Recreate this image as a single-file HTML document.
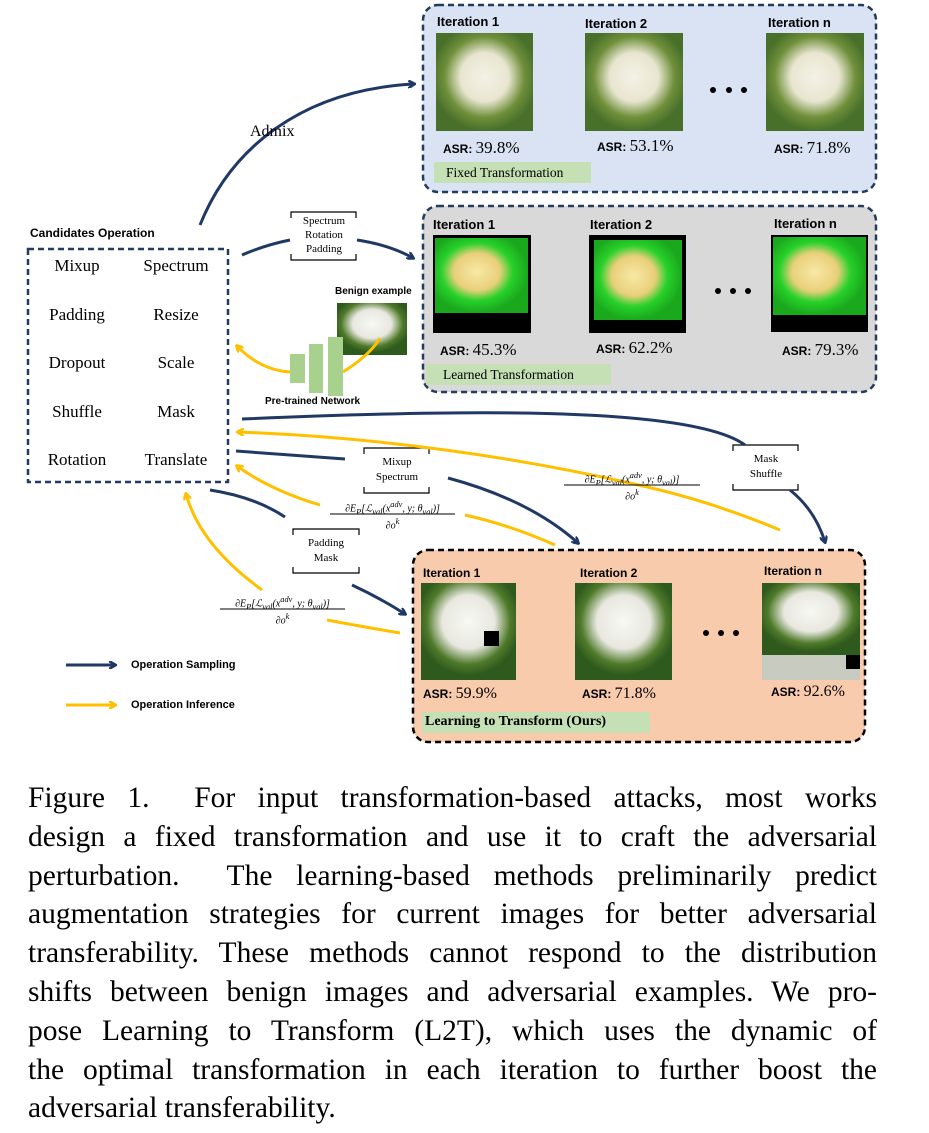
<!DOCTYPE html>
<html><head><meta charset="utf-8"><style>
body{margin:0;background:#fff;width:929px;height:1133px;position:relative;overflow:hidden}
.a{position:absolute}
.sans{font-family:"Liberation Sans",sans-serif;font-weight:bold}
.ser{font-family:"Liberation Serif",serif}
.cap{position:absolute;left:28px;top:779px;width:849px;font-family:"Liberation Serif",serif;font-size:29.5px;line-height:38.8px;color:#000}
.cap div{text-align:justify;text-align-last:justify;white-space:nowrap;height:38.8px}
.fr{line-height:12px;font-size:10px;font-style:italic;text-align:center;white-space:nowrap}
</style></head><body>
<svg class="a" style="left:0;top:0" width="929" height="770" viewBox="0 0 929 770">
<defs>
<marker id="n" markerWidth="8" markerHeight="8" refX="6" refY="4" orient="auto" markerUnits="userSpaceOnUse"><path d="M0,0 L7,4 L0,8" fill="none" stroke="#1f3864" stroke-width="2.5"/></marker>
<marker id="o" markerWidth="8" markerHeight="8" refX="6" refY="4" orient="auto" markerUnits="userSpaceOnUse"><path d="M0,0 L7,4 L0,8" fill="none" stroke="#ffc000" stroke-width="2.5"/></marker>
<radialGradient id="dg" cx="50%" cy="45%" r="55%"><stop offset="0" stop-color="#f4f1e6"/><stop offset="0.45" stop-color="#e8e6d0"/><stop offset="0.75" stop-color="#6f8f3a"/><stop offset="1" stop-color="#48702a"/></radialGradient>
<radialGradient id="dl" cx="45%" cy="45%" r="55%"><stop offset="0" stop-color="#f7e9a6"/><stop offset="0.45" stop-color="#e9cf7a"/><stop offset="0.7" stop-color="#27d12a"/><stop offset="1" stop-color="#1aa81d"/></radialGradient>
<radialGradient id="dr" cx="50%" cy="40%" r="55%"><stop offset="0" stop-color="#f8f8f4"/><stop offset="0.5" stop-color="#e8e8e0"/><stop offset="0.8" stop-color="#4f7a2a"/><stop offset="1" stop-color="#2f5a1e"/></radialGradient>
</defs>
<rect x="423" y="5" width="453" height="187" rx="15" fill="#dae3f3" stroke="#243a5e" stroke-width="2.5" stroke-dasharray="6,4"/>
<rect x="436" y="33" width="97" height="98" fill="url(#dg)"/>
<rect x="585" y="33" width="98" height="98" fill="url(#dg)"/>
<rect x="766" y="33" width="98" height="98" fill="url(#dg)"/>
<rect x="434" y="162" width="157" height="21" fill="#c5e0b4"/>
<rect x="423" y="206" width="453" height="186" rx="15" fill="#d9d9d9" stroke="#243a5e" stroke-width="2.5" stroke-dasharray="6,4"/>
<rect x="433" y="235" width="98" height="98" fill="#000"/><rect x="435" y="238" width="93" height="75" fill="url(#dl)"/>
<rect x="589" y="235" width="97" height="98" fill="#000"/><rect x="594" y="240" width="88" height="80" fill="url(#dl)"/>
<rect x="771" y="235" width="97" height="97" fill="#000"/><rect x="773" y="237" width="93" height="78" fill="url(#dl)"/>
<rect x="426" y="364" width="185" height="21" fill="#c5e0b4"/>
<rect x="413" y="550" width="452" height="192" rx="15" fill="#f8cbad" stroke="#000" stroke-width="2.5" stroke-dasharray="6,4"/>
<rect x="421" y="583" width="95" height="97" fill="url(#dr)"/><rect x="484" y="631" width="15" height="15" fill="#000"/>
<rect x="575" y="583" width="97" height="97" fill="url(#dr)"/>
<rect x="762" y="583" width="98" height="72" fill="url(#dr)"/><rect x="762" y="655" width="98" height="25" fill="#c8ccc0"/><rect x="846" y="655" width="14" height="14" fill="#000"/>
<rect x="422" y="712" width="228" height="21" fill="#c5e0b4"/>
<g fill="#000"><circle cx="713" cy="90" r="3"/><circle cx="729" cy="90" r="3"/><circle cx="744" cy="90" r="3"/>
<circle cx="718" cy="291" r="3"/><circle cx="733" cy="291" r="3"/><circle cx="748" cy="291" r="3"/>
<circle cx="706" cy="633" r="3"/><circle cx="721" cy="633" r="3"/><circle cx="736" cy="633" r="3"/></g>
<rect x="28" y="249" width="200" height="233" fill="none" stroke="#243a5e" stroke-width="2.5" stroke-dasharray="6,4"/>
<g fill="none" stroke="#000" stroke-width="1.2">
<path d="M291,218 V212 H356 V218 M291,254 V260 H356 V254"/>
<path d="M364,454 V448 H429 V454 M364,487 V493 H429 V487"/>
<path d="M293,535 V529 H359 V535 M293,567 V573 H359 V567"/>
<path d="M733,451 V445 H798 V451 M733,484 V490 H798 V484"/>
</g>
<rect x="337" y="303" width="70" height="52" fill="url(#dr)"/>
<rect x="290" y="354" width="15" height="29" fill="#a9d18e"/>
<rect x="309" y="344" width="14" height="49" fill="#a9d18e"/>
<rect x="328" y="337" width="15" height="59" fill="#a9d18e"/>
<g fill="none" stroke="#1f3864" stroke-width="3">
<path d="M200,225 C230,150 300,90 414,84" marker-end="url(#n)"/>
<path d="M242,255 Q265,245 290,240"/>
<path d="M357,240 Q390,245 413,258" marker-end="url(#n)"/>
<path d="M242,419 C450,410 690,405 745,445"/>
<path d="M790,490 Q815,510 825,542" marker-end="url(#n)"/>
<path d="M236,451 L345,459"/>
<path d="M448,478 Q530,500 578,543" marker-end="url(#n)"/>
<path d="M210,490 Q255,497 285,517"/>
<path d="M352,585 Q380,598 405,614" marker-end="url(#n)"/>
<path d="M66,665 L115,665" marker-end="url(#n)"/>
</g>
<g fill="none" stroke="#ffc000" stroke-width="3">
<path d="M290,372 Q260,370 237,346" marker-end="url(#o)"/>
<path d="M343,372 Q370,355 380,338"/>
<path d="M780,530 Q720,505 660,490 Q450,440 238,432" marker-end="url(#o)"/>
<path d="M555,545 Q510,525 465,515"/>
<path d="M320,505 Q270,490 237,466" marker-end="url(#o)"/>
<path d="M262,590 Q200,545 186,494" marker-end="url(#o)"/>
<path d="M327,620 Q370,628 400,633"/>
<path d="M66,705 L115,705" marker-end="url(#o)"/>
</g>
<g stroke="#000" stroke-width="1"><line x1="330" y1="514" x2="455" y2="514"/><line x1="564" y1="485" x2="700" y2="485"/><line x1="220" y1="609" x2="345" y2="609"/></g>
</svg>

<div class="a sans" style="left:437px;top:14px;font-size:13px">Iteration 1</div>
<div class="a sans" style="left:585px;top:16px;font-size:13px">Iteration 2</div>
<div class="a sans" style="left:768px;top:15px;font-size:13px">Iteration n</div>
<div class="a" style="left:443px;top:138px;font-size:17px"><span class="sans" style="font-size:12px">ASR: </span><span class="ser">39.8%</span></div>
<div class="a" style="left:597px;top:136px;font-size:17px"><span class="sans" style="font-size:12px">ASR: </span><span class="ser">53.1%</span></div>
<div class="a" style="left:774px;top:138px;font-size:17px"><span class="sans" style="font-size:12px">ASR: </span><span class="ser">71.8%</span></div>
<div class="a ser" style="left:446px;top:165px;font-size:13.5px">Fixed Transformation</div>

<div class="a sans" style="left:433px;top:217px;font-size:13px">Iteration 1</div>
<div class="a sans" style="left:590px;top:217px;font-size:13px">Iteration 2</div>
<div class="a sans" style="left:774px;top:216px;font-size:13px">Iteration n</div>
<div class="a" style="left:440px;top:340px;font-size:17px"><span class="sans" style="font-size:12px">ASR: </span><span class="ser">45.3%</span></div>
<div class="a" style="left:596px;top:338px;font-size:17px"><span class="sans" style="font-size:12px">ASR: </span><span class="ser">62.2%</span></div>
<div class="a" style="left:782px;top:340px;font-size:17px"><span class="sans" style="font-size:12px">ASR: </span><span class="ser">79.3%</span></div>
<div class="a ser" style="left:443px;top:367px;font-size:13.5px">Learned Transformation</div>

<div class="a sans" style="left:423px;top:566px;font-size:12px">Iteration 1</div>
<div class="a sans" style="left:580px;top:566px;font-size:12px">Iteration 2</div>
<div class="a sans" style="left:764px;top:564px;font-size:12px">Iteration n</div>
<div class="a" style="left:423px;top:685px;font-size:16px"><span class="sans" style="font-size:12px">ASR: </span><span class="ser">59.9%</span></div>
<div class="a" style="left:582px;top:685px;font-size:16px"><span class="sans" style="font-size:12px">ASR: </span><span class="ser">71.8%</span></div>
<div class="a" style="left:771px;top:683px;font-size:16px"><span class="sans" style="font-size:12px">ASR: </span><span class="ser">92.6%</span></div>
<div class="a ser" style="left:425px;top:714px;font-size:14px;font-weight:bold">Learning to Transform (Ours)</div>

<div class="a sans" style="left:30px;top:226px;font-size:12px">Candidates Operation</div>
<div class="a ser" style="left:28px;top:242px;width:200px;font-size:17px;line-height:48.5px">
<div style="display:flex"><span style="width:98px;text-align:center">Mixup</span><span style="width:100px;text-align:center">Spectrum</span></div>
<div style="display:flex"><span style="width:98px;text-align:center">Padding</span><span style="width:100px;text-align:center">Resize</span></div>
<div style="display:flex"><span style="width:98px;text-align:center">Dropout</span><span style="width:100px;text-align:center">Scale</span></div>
<div style="display:flex"><span style="width:98px;text-align:center">Shuffle</span><span style="width:100px;text-align:center">Mask</span></div>
<div style="display:flex"><span style="width:98px;text-align:center">Rotation</span><span style="width:100px;text-align:center">Translate</span></div>
</div>
<div class="a ser" style="left:250px;top:123px;font-size:16px">Admix</div>
<div class="a ser" style="left:291px;top:214px;width:66px;text-align:center;font-size:11px;line-height:14px">Spectrum<br>Rotation<br>Padding</div>
<div class="a ser" style="left:364px;top:455px;width:66px;text-align:center;font-size:11px;line-height:15px">Mixup<br>Spectrum</div>
<div class="a ser" style="left:293px;top:536px;width:66px;text-align:center;font-size:11px;line-height:15px">Padding<br>Mask</div>
<div class="a ser" style="left:733px;top:452px;width:66px;text-align:center;font-size:11px;line-height:15px">Mask<br>Shuffle</div>
<div class="a sans" style="left:335px;top:286px;font-size:10px">Benign example</div>
<div class="a sans" style="left:265px;top:396px;font-size:10px">Pre-trained Network</div>
<div class="a ser fr" style="left:330px;top:499px;width:125px">∂E<sub>P</sub>[ℒ<sub>val</sub>(x<sup>adv</sup>, y; θ<sub>val</sub>)]</div>
<div class="a ser fr" style="left:330px;top:516px;width:125px">∂o<sup>k</sup></div>
<div class="a ser fr" style="left:564px;top:470px;width:136px">∂E<sub>P</sub>[ℒ<sub>val</sub>(x<sup>adv</sup>, y; θ<sub>val</sub>)]</div>
<div class="a ser fr" style="left:564px;top:487px;width:136px">∂o<sup>k</sup></div>
<div class="a ser fr" style="left:220px;top:594px;width:125px">∂E<sub>P</sub>[ℒ<sub>val</sub>(x<sup>adv</sup>, y; θ<sub>val</sub>)]</div>
<div class="a ser fr" style="left:220px;top:611px;width:125px">∂o<sup>k</sup></div>
<div class="a sans" style="left:131px;top:659px;font-size:11px">Operation Sampling</div>
<div class="a sans" style="left:131px;top:699px;font-size:11px">Operation Inference</div>

<div class="cap">
<div>Figure 1.&nbsp; For input transformation-based attacks, most works</div>
<div>design a fixed transformation and use it to craft the adversarial</div>
<div>perturbation.&nbsp; The learning-based methods preliminarily predict</div>
<div>augmentation strategies for current images for better adversarial</div>
<div>transferability. These methods cannot respond to the distribution</div>
<div>shifts between benign images and adversarial examples. We pro-</div>
<div>pose Learning to Transform (L2T), which uses the dynamic of</div>
<div>the optimal transformation in each iteration to further boost the</div>
<div style="text-align:left;text-align-last:left">adversarial transferability.</div>
</div>
</body></html>
